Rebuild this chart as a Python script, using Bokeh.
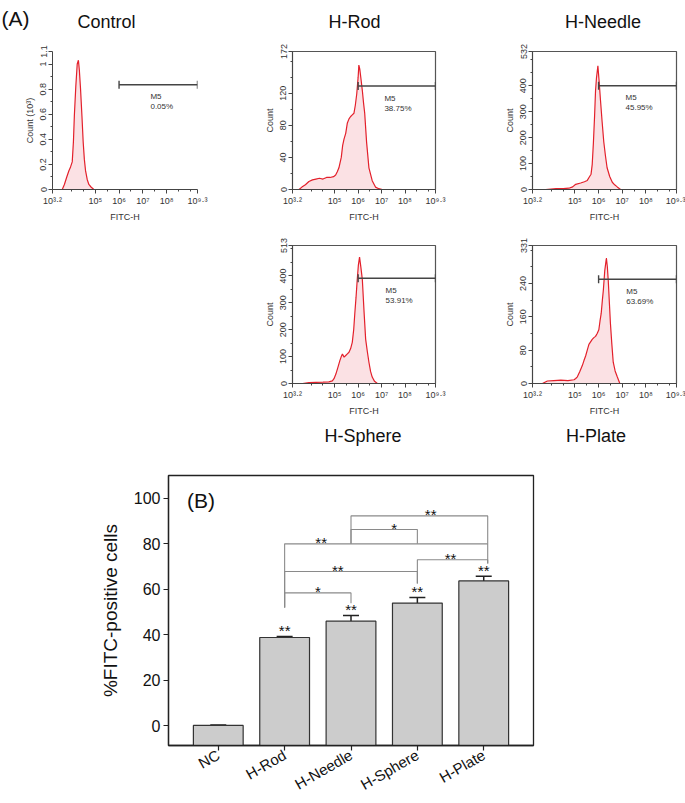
import math
from bokeh.plotting import figure
from bokeh.models import (Range1d, FixedTicker, ColumnDataSource, Whisker,
                          TeeHead, Spacer, CustomJSTickFormatter)
from bokeh.layouts import row, column
from bokeh.embed import file_html
from bokeh.resources import INLINE
from bokeh.core.properties import value

FONT = "Liberation Sans"

# ---------------- (A) flow-cytometry histograms: log10(FITC-H) vs count ----------------
control_logx = [3.61, 3.70, 3.80, 3.89, 3.96, 4.03, 4.08, 4.12, 4.18, 4.24, 4.29, 4.33,
                4.38, 4.44, 4.49, 4.54, 4.59, 4.66, 4.73, 4.82, 4.94]
control_count = [0, 0.04, 0.10, 0.15, 0.18, 0.22, 0.38, 0.59, 0.82, 1.00, 1.03, 0.95,
                 0.80, 0.58, 0.38, 0.24, 0.15, 0.08, 0.04, 0.02, 0]

rod_logx = [3.48, 3.60, 3.75, 3.90, 4.05, 4.20, 4.35, 4.50, 4.65, 4.80, 4.95, 5.04, 5.11,
            5.18, 5.28, 5.34, 5.40, 5.47, 5.54, 5.61, 5.68, 5.75, 5.82, 5.88, 5.94, 6.00,
            6.03, 6.07, 6.12, 6.18, 6.23, 6.28, 6.36, 6.46, 6.60, 6.74, 6.88, 7.03]
rod_count = [0, 3, 6, 10, 12, 13, 14, 13, 15, 15, 16, 18, 22, 27, 40, 55, 63, 70, 83, 88,
             91, 93, 95, 105, 119, 140, 155, 150, 138, 123, 108, 95, 59, 27, 11, 3, 1, 0]

needle_logx = [3.76, 4.20, 4.50, 4.74, 4.90, 5.03, 5.24, 5.40, 5.52, 5.62, 5.68, 5.73,
               5.78, 5.83, 5.87, 5.91, 5.97, 6.02, 6.08, 6.15, 6.22, 6.29, 6.36, 6.47,
               6.58, 6.68, 6.79, 6.93]
needle_count = [0, 3, 3, 5, 10, 20, 25, 30, 35, 50, 59, 97, 180, 283, 380, 430, 477, 420,
                344, 260, 183, 130, 84, 50, 28, 18, 10, 0]

sphere_logx = [3.63, 3.90, 4.20, 4.50, 4.75, 4.90, 4.97, 5.05, 5.14, 5.22, 5.28, 5.33,
               5.40, 5.47, 5.54, 5.61, 5.68, 5.75, 5.81, 5.86, 5.91, 5.96, 6.01, 6.06,
               6.12, 6.18, 6.25, 6.32, 6.39, 6.46, 6.53, 6.60, 6.70, 6.82]
sphere_count = [0, 3, 4, 5, 6, 10, 18, 35, 61, 85, 100, 110, 98, 104, 110, 116, 130, 153,
                200, 263, 320, 385, 440, 470, 430, 385, 270, 165, 120, 79, 45, 24, 8, 0]

plate_logx = [3.62, 3.83, 4.10, 4.40, 4.70, 4.96, 5.03, 5.10, 5.20, 5.31, 5.38, 5.45,
              5.52, 5.59, 5.66, 5.73, 5.80, 5.87, 5.94, 6.01, 6.06, 6.11, 6.16, 6.20,
              6.26, 6.33, 6.37, 6.41, 6.46, 6.50, 6.56, 6.62, 6.70, 6.79, 6.90]
plate_count = [0, 6, 7, 8, 7, 9, 12, 16, 28, 43, 55, 66, 80, 94, 100, 106, 110, 113, 120,
               129, 150, 168, 200, 223, 270, 301, 280, 246, 190, 145, 95, 51, 30, 16, 0]

panel_names = ["Control", "H-Rod", "H-Needle", "H-Sphere", "H-Plate"]
panel_logx = [control_logx, rod_logx, needle_logx, sphere_logx, plate_logx]
panel_count = [control_count, rod_count, needle_count, sphere_count, plate_count]
y_max = [1.1, 172, 532, 513, 331]
y_ticks = [[0, 0.2, 0.4, 0.6, 0.8, 1, 1.1], [0, 40, 80, 120, 172],
           [0, 100, 200, 300, 400, 532], [0, 100, 200, 300, 400, 513],
           [0, 80, 160, 240, 331]]
y_minor = [[0.1, 0.3, 0.5, 0.7, 0.9], [20, 60, 100, 140, 160],
           [50, 150, 250, 350, 450, 500], [50, 150, 250, 350, 450, 500],
           [40, 120, 200, 280, 320]]
y_labels = ["Count (10\u00b3)", "Count", "Count", "Count", "Count"]
x_tick_logs = [3.2, 5, 6, 7, 8, 9.3]
x_minor_logs = [4, 4.5, 5.5, 6.5, 7.5, 8.5, 9]
X_LO, X_HI = 3.2, 9.3

m5_start_log = 6.0
m5_level = [0.835, 129, 400, 391, 250]
m5_pct = ["0.05%", "38.75%", "45.95%", "53.91%", "63.69%"]

# ---------------- (B) bar chart ----------------
groups = ["NC", "H-Rod", "H-Needle", "H-Sphere", "H-Plate"]
pct_pos = [0.05, 38.75, 45.95, 53.91, 63.69]
pct_err = [0.2, 0.5, 2.5, 2.5, 2.0]
bar_sig = ["", "**", "**", "**", "**"]

# significance brackets: left group, right group, bracket height, leg bottoms, label
brk_x0 = [1, 1, 1, 3, 2, 2]
brk_x1 = [2, 3, 4.06, 4.06, 3, 4.06]
brk_y = [58.4, 67.8, 80, 73, 86.3, 92.3]
brk_y0 = [52, 52, 52, 62.5, 80, 80]
brk_y1 = [53.8, 62.5, 71.4, 71.4, 80, 80]
brk_txt = ["*", "**", "**", "**", "*", "**"]
brk_txt_x = [1.5, 1.8, 1.55, 3.5, 2.65, 3.2]

SUP_JS = """
const sup = {"0":"\\u2070","1":"\\u00b9","2":"\\u00b2","3":"\\u00b3","4":"\\u2074",
             "5":"\\u2075","6":"\\u2076","7":"\\u2077","8":"\\u2078","9":"\\u2079",".":"\\u00b7"};
const e = Math.round(Math.log10(tick) * 10) / 10;
return "10" + String(e).split("").map(c => sup[c]).join("");
"""
PLAIN_JS = "return String(tick);"

W = 685
# layout of each histogram panel: width, height, borders (l, r, t, b), boxed
panel_layout = [
    dict(w=240, h=186, bl=52, br=43, bt=11, bb=34, boxed=False),
    dict(w=230, h=186, bl=52, br=35, bt=6, bb=37, boxed=True),
    dict(w=215, h=186, bl=62, br=9, bt=6, bb=37, boxed=True),
    dict(w=230, h=192, bl=52, br=35, bt=19, bb=33, boxed=True),
    dict(w=215, h=192, bl=62, br=9, bt=18, bb=33, boxed=True),
]
m5_text_log = [7.32, 7.12, 7.14, 7.17, 7.17]

# title bands (pixel coordinates inside each band): text, x, centre y, align, size
band1_h = 40
band1 = [("(A)", 1, 17.5, "left", "21px"), ("Control", 106, 21, "center", "18px"),
         ("H-Rod", 354, 21.5, "center", "18px"), ("H-Needle", 602.5, 21.5, "center", "18px")]
band2_h = 37
band2 = [("H-Sphere", 362.5, 17, "center", "18px"), ("H-Plate", 595.5, 17, "center", "18px")]


def title_band(h, items):
    p = figure(width=W, height=h, x_range=Range1d(0, W), y_range=Range1d(h, 0),
               output_backend="svg", toolbar_location=None, title=None,
               min_border_left=0, min_border_right=0, min_border_top=0, min_border_bottom=0,
               x_axis_location=None, y_axis_location=None)
    p.xgrid.visible = False
    p.ygrid.visible = False
    p.outline_line_color = None
    for txt, x, y, al, fs in items:
        p.text([x], [y], text=[txt], text_font=value(FONT), text_font_size=fs,
               text_color="#111111", text_align=al, text_baseline="middle")
    return p


def hist_panel(k):
    L = panel_layout[k]
    ymax = y_max[k]
    p = figure(width=L["w"], height=L["h"], x_axis_type="log", title=None,
               x_range=Range1d(10 ** X_LO, 10 ** X_HI), y_range=Range1d(0, ymax),
               output_backend="svg", toolbar_location=None,
               min_border_left=L["bl"], min_border_right=L["br"],
               min_border_top=L["bt"], min_border_bottom=L["bb"])
    p.xgrid.visible = False
    p.ygrid.visible = False
    p.outline_line_color = "#555555" if L["boxed"] else None
    p.outline_line_width = 1.2

    x = [10 ** v for v in panel_logx[k]]
    y = panel_count[k]
    p.varea(x=x, y1=[0] * len(x), y2=y, fill_color="#fbe1e4")
    p.line(x, y, line_color="#e3202b", line_width=1.2)

    lvl = m5_level[k]
    p.segment(x0=[10 ** m5_start_log], y0=[lvl], x1=[10 ** X_HI], y1=[lvl],
              line_color="#444444", line_width=1.4)
    p.scatter([10 ** m5_start_log, 10 ** X_HI], [lvl, lvl], marker="dash",
              angle=math.pi / 2, size=8, line_color="#444444", line_width=1.4)
    p.text([10 ** m5_text_log[k]] * 2, [lvl, lvl], text=["M5", m5_pct[k]],
           y_offset=[12, 22], text_font=value(FONT), text_font_size="8px",
           text_color="#333333", text_baseline="middle", text_align="left")

    xa = p.xaxis[0]
    xa.ticker = FixedTicker(ticks=[10 ** t for t in x_tick_logs],
                            minor_ticks=[10 ** t for t in x_minor_logs])
    xa.formatter = CustomJSTickFormatter(code=SUP_JS)
    xa.axis_label = "FITC-H"
    ya = p.yaxis[0]
    ya.ticker = FixedTicker(ticks=y_ticks[k], minor_ticks=y_minor[k])
    ya.formatter = CustomJSTickFormatter(code=PLAIN_JS)
    ya.axis_label = y_labels[k]
    ya.major_label_orientation = "parallel"
    for ax in (xa, ya):
        ax.axis_line_color = "#444444"
        ax.major_tick_line_color = "#444444"
        ax.minor_tick_line_color = "#444444"
        ax.major_tick_in = 0
        ax.major_tick_out = 4
        ax.minor_tick_in = 0
        ax.minor_tick_out = 2
        ax.major_label_text_font = FONT
        ax.major_label_text_font_size = "9px"
        ax.major_label_text_color = "#333333"
        ax.major_label_standoff = 2
        ax.axis_label_text_font = FONT
        ax.axis_label_text_font_size = "9px"
        ax.axis_label_text_font_style = "normal"
        ax.axis_label_text_color = "#333333"
        ax.axis_label_standoff = 3
    return p


figs = [hist_panel(k) for k in range(5)]

# ---------------- bar chart ----------------
Y_LO, Y_HI = -8.8, 110.1
bp = figure(width=W, height=348, x_range=Range1d(-0.75, 4.75), y_range=Range1d(Y_LO, Y_HI),
            output_backend="svg", toolbar_location=None, title=None,
            min_border_left=168, min_border_right=152, min_border_top=20, min_border_bottom=58)
bp.xgrid.visible = False
bp.ygrid.visible = False
bp.outline_line_color = "#222222"
bp.outline_line_width = 1.3

idx = list(range(len(groups)))
bp.vbar(x=idx, top=pct_pos, bottom=Y_LO, width=0.75, fill_color="#cccccc",
        line_color="#333333", line_width=1.2)

caps = [v + e for v, e in zip(pct_pos, pct_err)]
wsrc = ColumnDataSource(dict(x=idx, lower=pct_pos, upper=caps))
bp.add_layout(Whisker(source=wsrc, base="x", lower="lower", upper="upper",
                      dimension="height", line_color="#222222", line_width=1.5,
                      upper_head=TeeHead(size=16, line_color="#222222", line_width=1.5),
                      lower_head=None))

bp.text(idx[1:], caps[1:], text=bar_sig[1:],
        y_offset=-6, text_font=value(FONT), text_font_size="15px", text_color="#111111",
        text_align="center", text_baseline="alphabetic")

bxs = [[a, a, b, b] for a, b in zip(brk_x0, brk_x1)]
bys = [[y0, y, y, y1] for y0, y, y1 in zip(brk_y0, brk_y, brk_y1)]
bp.multi_line(bxs, bys, line_color="#8a8a8a", line_width=1.1)
bp.text(brk_txt_x, brk_y, text=brk_txt, y_offset=-1, text_font=value(FONT),
        text_font_size="15px", text_color="#111111", text_align="center",
        text_baseline="alphabetic")

bp.text([-0.47], [99.1], text=["(B)"], text_font=value(FONT), text_font_size="21px",
        text_color="#111111", text_align="left", text_baseline="middle")

bx = bp.xaxis[0]
bx.ticker = FixedTicker(ticks=idx)
bx.formatter = CustomJSTickFormatter(args=dict(names=groups),
                                     code="return names[Math.round(tick)];")
bx.major_label_orientation = math.pi / 6
by = bp.yaxis[0]
by.ticker = FixedTicker(ticks=[0, 20, 40, 60, 80, 100])
by.axis_label = "%FITC-positive cells"
for ax in (bx, by):
    ax.axis_line_color = "#222222"
    ax.axis_line_width = 1.3
    ax.major_tick_line_color = "#222222"
    ax.major_tick_line_width = 1.2
    ax.major_tick_in = 0
    ax.major_tick_out = 5
    ax.minor_tick_line_color = None
    ax.major_label_text_font = FONT
    ax.major_label_text_color = "#111111"
    ax.major_label_standoff = 3
    ax.axis_label_text_font = FONT
    ax.axis_label_text_font_size = "19px"
    ax.axis_label_text_font_style = "normal"
    ax.axis_label_text_color = "#111111"
    ax.axis_label_standoff = 10
by.major_label_text_font_size = "16px"
bx.major_label_text_font_size = "15px"

layout = column(row(title_band(band1_h, band1)),
                row(figs[0], figs[1], figs[2]),
                row(Spacer(width=240, height=192), figs[3], figs[4]),
                row(title_band(band2_h, band2)),
                row(bp))

with open("out.html", "w", encoding="utf-8") as f:
    f.write(file_html(layout, INLINE))
